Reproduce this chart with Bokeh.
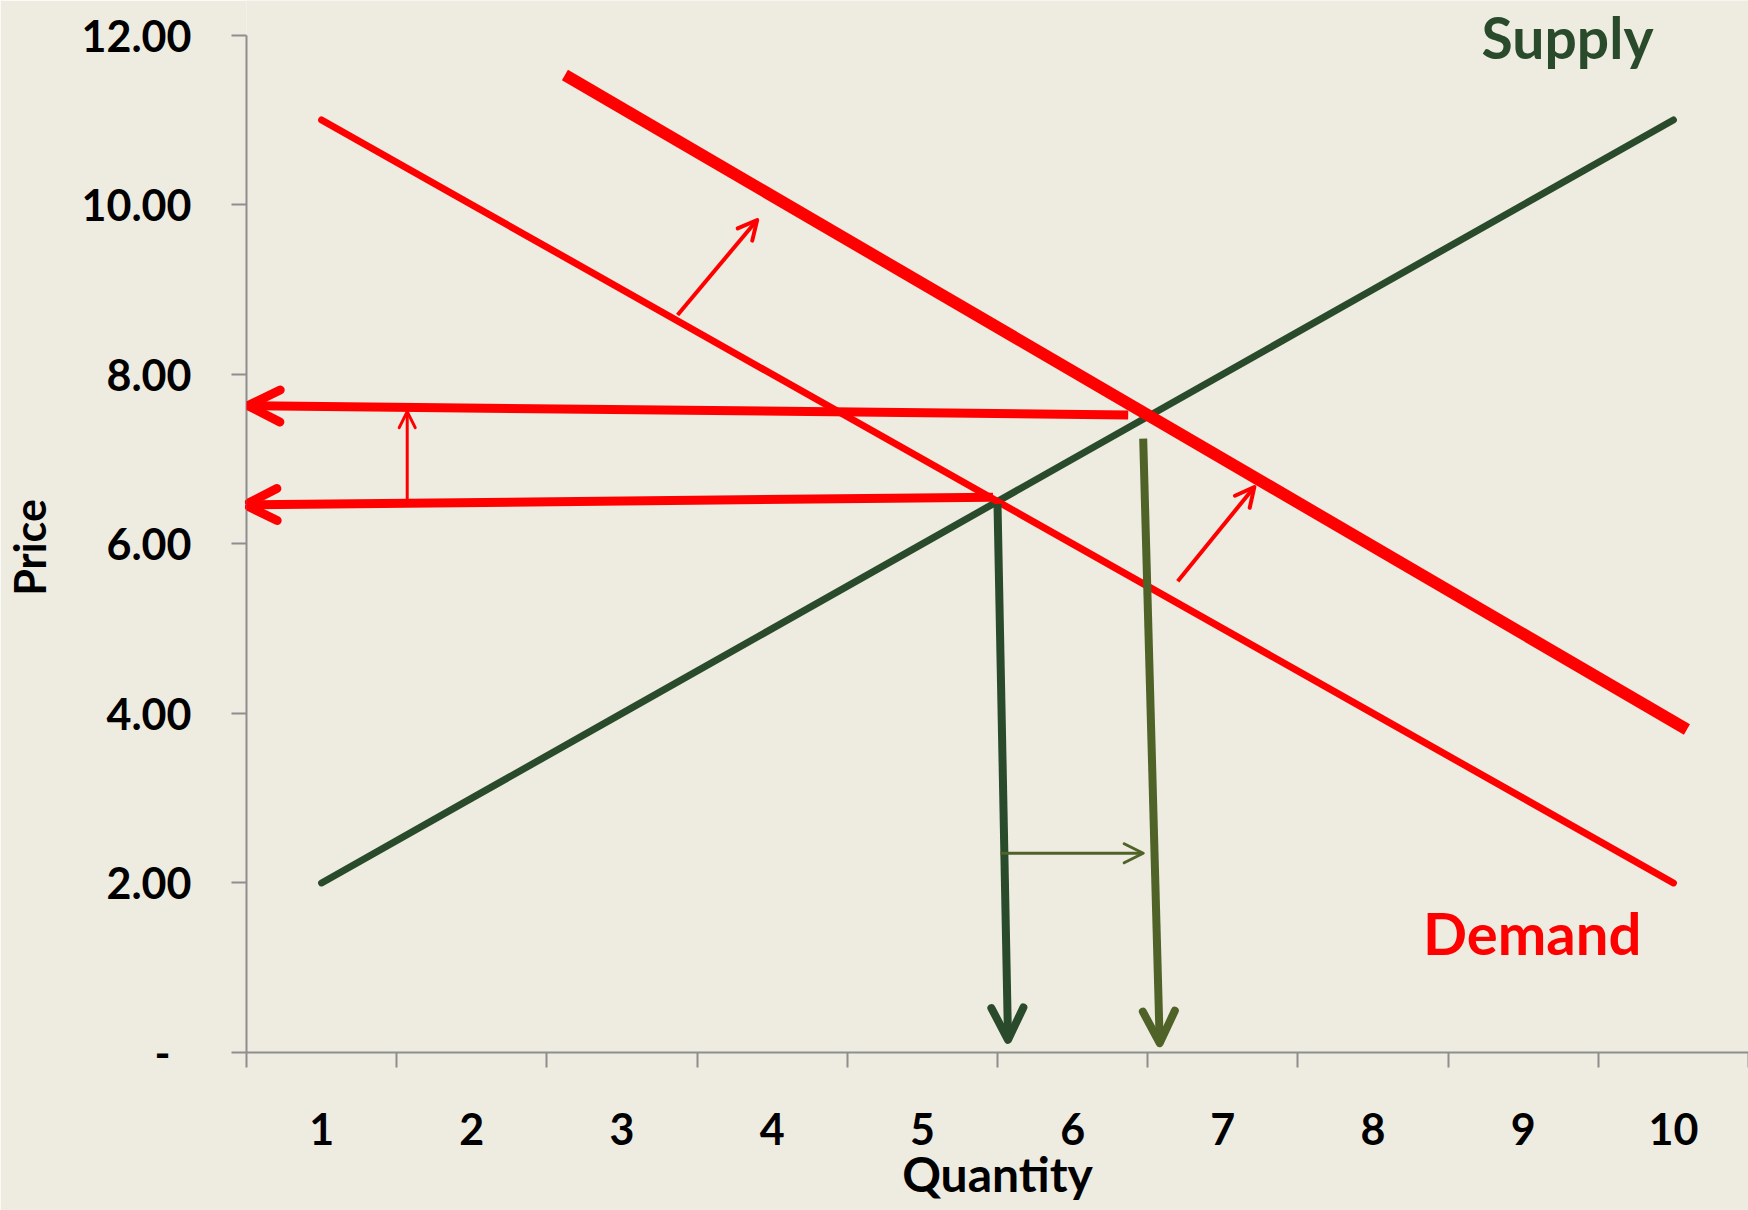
from bokeh.plotting import figure
from bokeh.models import ColumnDataSource, Arrow, OpenHead, FixedTicker, Label, Range1d
from bokeh.embed import file_html
from bokeh.resources import INLINE

# ---------------- data ----------------
quantity = [1, 2, 3, 4, 5, 6, 7, 8, 9, 10]
x_tick_labels = ["1", "2", "3", "4", "5", "6", "7", "8", "9", "10"]
supply_price = [2, 3, 4, 5, 6, 7, 8, 9, 10, 11]
demand_price = [11, 10, 9, 8, 7, 6, 5, 4, 3, 2]

# shifted (new) demand line end points
new_demand_qty = [2.62, 10.09]
new_demand_price = [11.53, 3.81]

y_ticks = [0, 2, 4, 6, 8, 10, 12]
y_tick_labels = ["-\u00a0\u00a0", "2.00", "4.00", "6.00", "8.00", "10.00", "12.00"]

price_arrow_q0 = [6.37, 5.47]
price_arrow_p0 = [7.52, 6.55]
price_arrow_q1 = [0.51, 0.49]
price_arrow_p1 = [7.63, 6.46]

# thin red arrows: demand shift
shift_arrow_q0 = [3.37, 6.70]
shift_arrow_p0 = [8.70, 5.56]
shift_arrow_q1 = [3.90, 7.21]
shift_arrow_p1 = [9.82, 6.67]

# thin red arrow: price rise
rise_arrow_q0 = [1.57]
rise_arrow_p0 = [6.53]
rise_arrow_q1 = [1.57]
rise_arrow_p1 = [7.56]

# thick green arrows: equilibrium quantities
old_qty_arrow_q0 = [5.50]
old_qty_arrow_p0 = [6.47]
old_qty_arrow_q1 = [5.57]
old_qty_arrow_p1 = [0.15]

new_qty_arrow_q0 = [6.47]
new_qty_arrow_p0 = [7.24]
new_qty_arrow_q1 = [6.58]
new_qty_arrow_p1 = [0.11]

# thin olive arrow: quantity rise
qty_rise_q0 = [5.52]
qty_rise_p0 = [2.35]
qty_rise_q1 = [6.47]
qty_rise_p1 = [2.35]

# ---------------- styles ----------------
BG = "#EEEBE0"
RED = "#FF0000"
DARK_GREEN = "#2A4B2B"
OLIVE = "#4F6228"
AXIS_GRAY = "#8E8E8E"
FONT = "Lato"

p = figure(width=1748, height=1210, output_backend="svg", toolbar_location=None,
           x_range=Range1d(0.5, 10.5), y_range=Range1d(0, 12.409),
           min_border_left=246, min_border_right=0, min_border_top=0, min_border_bottom=158,
           background_fill_color=BG, border_fill_color=BG, outline_line_color=None)
p.grid.visible = False

# y axis
p.yaxis.ticker = FixedTicker(ticks=y_ticks)
p.yaxis.major_label_overrides = {t: lab for t, lab in zip(y_ticks, y_tick_labels)}
p.yaxis.bounds = (0, 12)
p.yaxis.major_tick_in = 0
p.yaxis.major_tick_out = 15
p.yaxis.major_label_standoff = 40
p.yaxis.axis_label = "Price\u00a0\u00a0\u00a0\u00a0"
p.yaxis.axis_label_standoff = 24

# x axis: labels at category centres, ticks at category boundaries
p.xaxis.ticker = FixedTicker(ticks=quantity, minor_ticks=[q - 0.5 for q in quantity] + [quantity[-1] + 0.5])
p.xaxis.major_label_overrides = {q: lab for q, lab in zip(quantity, x_tick_labels)}
p.xaxis.major_tick_in = 0
p.xaxis.major_tick_out = 0
p.xaxis.minor_tick_in = 0
p.xaxis.minor_tick_out = 15
p.xaxis.major_label_standoff = 45
p.xaxis.axis_label = "Quantity"
p.xaxis.axis_label_standoff = -3

for ax in (p.xaxis, p.yaxis):
    ax.axis_line_color = AXIS_GRAY
    ax.axis_line_width = 2
    ax.major_tick_line_color = AXIS_GRAY
    ax.major_tick_line_width = 2
    ax.minor_tick_line_color = AXIS_GRAY
    ax.minor_tick_line_width = 2
    ax.major_label_text_font = FONT
    ax.major_label_text_font_style = "bold"
    ax.major_label_text_font_size = "43px"
    ax.major_label_text_color = "black"
    ax.axis_label_text_font = FONT
    ax.axis_label_text_font_style = "bold"
    ax.axis_label_text_color = "black"
p.yaxis.minor_tick_line_color = None
p.yaxis.axis_label_text_font_size = "43px"
p.xaxis.axis_label_text_font_size = "48px"

# lines
p.line(quantity, supply_price, line_color=DARK_GREEN, line_width=7, line_cap="round")
p.line(quantity, demand_price, line_color=RED, line_width=7, line_cap="round")
p.line(new_demand_qty, new_demand_price, line_color=RED, line_width=12, line_cap="butt")


def add_arrows(q0, p0, q1, p1, color, width, head_size, head_width):
    src = ColumnDataSource(dict(x0=q0, y0=p0, x1=q1, y1=p1))
    p.add_layout(Arrow(source=src, x_start="x0", y_start="y0", x_end="x1", y_end="y1",
                       line_color=color, line_width=width, line_cap="butt",
                       end=OpenHead(size=head_size, line_color=color, line_width=head_width,
                                    line_cap="round", line_join="round")))


add_arrows(old_qty_arrow_q0, old_qty_arrow_p0, old_qty_arrow_q1, old_qty_arrow_p1, DARK_GREEN, 8, 32, 8)
add_arrows(new_qty_arrow_q0, new_qty_arrow_p0, new_qty_arrow_q1, new_qty_arrow_p1, OLIVE, 8, 32, 8)
add_arrows(price_arrow_q0, price_arrow_p0, price_arrow_q1, price_arrow_p1, RED, 9, 32, 9)
add_arrows(shift_arrow_q0, shift_arrow_p0, shift_arrow_q1, shift_arrow_p1, RED, 4, 19, 4)
add_arrows(rise_arrow_q0, rise_arrow_p0, rise_arrow_q1, rise_arrow_p1, RED, 3, 16, 3)
add_arrows(qty_rise_q0, qty_rise_p0, qty_rise_q1, qty_rise_p1, OLIVE, 3, 19, 3)

# texts
p.add_layout(Label(x=9.295, y=11.975, text="Supply", text_font=FONT, text_font_style="bold",
                   text_font_size="57px", text_color=DARK_GREEN, text_align="center",
                   text_baseline="alphabetic"))
p.add_layout(Label(x=9.06, y=1.419, text="Demand", text_font=FONT, text_font_style="bold",
                   text_font_size="58px", text_color=RED, text_align="center",
                   text_baseline="alphabetic"))

open("out.html", "w").write(file_html(p, INLINE))
